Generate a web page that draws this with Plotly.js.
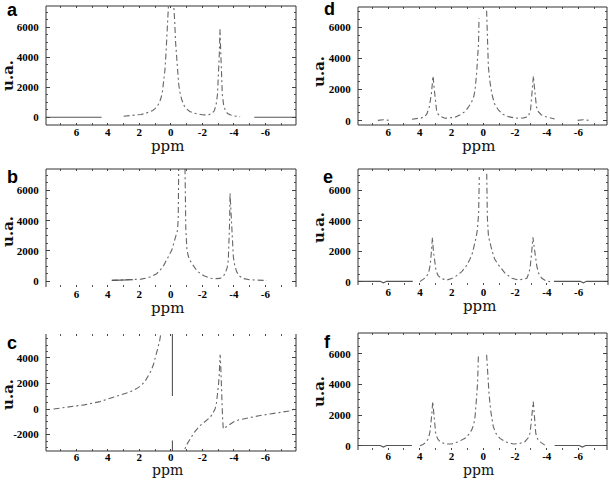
<!DOCTYPE html>
<html>
<head>
<meta charset="utf-8">
<script src="https://cdn.plot.ly/plotly-3.0.1.min.js"></script>
<style>html,body{margin:0;padding:0;background:#fff;}#chart{width:610px;height:480px;}</style>
</head>
<body>
<div id="chart"></div>
<script>
// ---- tick labels ----
const xTickVals = [6, 4, 2, 0, -2, -4, -6];
const xTickText = ['6', '4', '2', '0', '-2', '-4', '-6'];
const yTickVals = [0, 2000, 4000, 6000];
const yTickText = ['0', '2000', '4000', '6000'];
const cTickVals = [-2000, 0, 2000, 4000];
const cTickText = ['-2000', '0', '2000', '4000'];
const panelLetters = ['a', 'b', 'c', 'd', 'e', 'f'];

// ---- panel a ----
const aX = [3.0, 2.6, 2.2, 1.9, 1.6, 1.35, 1.15, 1.0, 0.85, 0.72, 0.62, 0.53, 0.45, 0.38, 0.31, 0.25, 0.2, 0.12, 0.0, -0.12, -0.2, -0.25, -0.3, -0.36, -0.43, -0.5, -0.59, -0.7, -0.85, -1.0, -1.2, -1.45, -1.75, -2.1, -2.4, -2.6, -2.75, -2.87, -2.96, -3.03, -3.08, -3.12, -3.16, -3.21, -3.27, -3.35, -3.45, -3.6, -3.8, -4.1, -4.4];
const aY = [70, 100, 140, 190, 260, 350, 460, 580, 760, 1000, 1300, 1750, 2350, 3100, 4200, 5500, 6600, 8500, 10500, 8500, 7400, 6300, 5000, 3900, 2900, 2200, 1600, 1150, 760, 560, 390, 280, 210, 160, 170, 250, 420, 800, 1500, 2700, 4200, 5850, 4300, 2700, 1500, 850, 500, 250, 150, 80, 40];
const aBaseX = [7.93, 4.4, null, -5.3, -7.95];
const aBaseY = [10, 10, null, 10, 10];

// ---- panel b ----
const bX = [3.75, 3.3, 2.8, 2.3, 1.9, 1.5, 1.2, 0.9, 0.68, 0.45, 0.26, 0.1, -0.06, -0.17, -0.27, -0.36, -0.43, -0.47, -0.5, -0.6, -0.7, -0.8, -0.86, -0.9, -0.95, -1.02, -1.1, -1.2, -1.34, -1.5, -1.65, -1.87, -2.1, -2.5, -2.8, -3.13, -3.3, -3.45, -3.58, -3.65, -3.7, -3.73, -3.76, -3.8, -3.84, -3.88, -3.92, -3.97, -4.05, -4.18, -4.35, -4.6, -5.0, -5.5, -6.1];
const bY = [60, 70, 85, 100, 140, 220, 330, 500, 730, 1050, 1400, 1700, 2060, 2450, 2900, 3150, 3400, 4200, 7600, 11000, 12000, 11000, 9000, 7500, 3500, 2100, 1700, 1400, 1170, 900, 700, 510, 360, 200, 170, 190, 300, 510, 900, 1400, 2400, 3800, 5830, 4800, 4000, 3300, 2500, 1620, 1100, 620, 350, 180, 100, 60, 50];
const bBaseX = [3.75, 2.4];
const bBaseY = [60, 95];

// ---- panel c ----
const cX = [7.45, 7.0, 6.5, 6.0, 5.5, 5.0, 4.5, 4.0, 3.5, 3.0, 2.6, 2.2, 1.9, 1.65, 1.45, 1.25, 1.1, 0.95, 0.82, 0.7, 0.6, 0.5, null, -0.75, -0.8, -1.0, -1.23, -1.5, -1.86, -2.2, -2.5, -2.7, -2.81, -2.9, -2.96, -3.02, -3.07, -3.1, -3.13, -3.17, -3.2, -3.24, -3.28, -3.33, -3.5, -3.75, -4.0, -4.3, -4.6, -5.0, -5.6, -6.3, -7.0, -7.5, -7.85];
const cY = [0, 90, 170, 250, 330, 430, 580, 790, 990, 1170, 1340, 1580, 1830, 2150, 2550, 3000, 3500, 4100, 4800, 5400, 6000, 7000, null, -3800, -3400, -2800, -2330, -1800, -1290, -950, -650, -250, 0, 500, 1030, 1800, 2580, 3400, 4250, 3400, 2000, 800, -500, -1550, -1400, -1150, -1000, -850, -760, -650, -520, -390, -270, -150, 0];
const cBaseX = [-0.1, -0.1, null, -0.1, -0.1];
const cBaseY = [5870, 1030, null, -2460, -3300];

// ---- panel d ----
const dX = [6.65, 6.3, 5.95, null, 4.5, 4.2, 3.9, 3.68, 3.55, 3.4, 3.32, 3.27, 3.22, 3.18, 3.15, 3.12, 3.06, 2.95, 2.85, 2.74, 2.42, 2.1, 1.79, 1.45, 1.16, 0.95, 0.73, 0.6, 0.52, 0.42, 0.36, 0.3, 0.27, null, -0.21, -0.26, -0.32, -0.42, -0.53, -0.7, -0.95, -1.25, -1.58, -1.9, -2.2, -2.55, -2.84, -2.98, -3.05, -3.11, -3.16, -3.21, -3.26, -3.35, -3.47, -3.65, -3.9, -4.2, -4.5, null, -5.95, -6.3, -6.65];
const dY = [20, 60, 20, null, 90, 120, 180, 260, 450, 900, 1300, 1760, 2300, 2870, 2700, 2300, 1540, 690, 420, 300, 150, 170, 214, 380, 580, 850, 1220, 1550, 1970, 3040, 4000, 5000, 6580, null, 7070, 5190, 3470, 2500, 1760, 1100, 690, 400, 260, 190, 150, 180, 260, 700, 1540, 2300, 2870, 2300, 1540, 900, 580, 380, 260, 160, 110, null, 20, 60, 20];
const dBaseX = [];
const dBaseY = [];

// ---- panel e ----
const eX = [4.0, 3.8, 3.6, 3.45, 3.35, 3.28, 3.21, 3.15, 3.08, 2.98, 2.85, 2.65, 2.3, 2.0, 1.7, 1.36, 1.1, 0.87, 0.7, 0.58, 0.46, 0.38, 0.3, 0.26, null, -0.21, -0.25, -0.32, -0.42, -0.53, -0.7, -0.95, -1.37, -1.8, -2.2, -2.5, -2.74, -2.88, -2.95, -3.03, -3.12, -3.17, -3.22, -3.3, -3.37, -3.5, -3.68, -3.9, -4.2];
const eY = [0, 150, 300, 600, 1100, 1900, 2920, 2000, 1300, 700, 400, 200, 110, 200, 380, 660, 1000, 1430, 1850, 2310, 2900, 3400, 4500, 6880, null, 7100, 4200, 2970, 2500, 2090, 1500, 1100, 550, 220, 110, 150, 220, 600, 990, 1800, 2920, 2500, 2090, 1400, 990, 500, 220, 80, 0];
const eBaseX = [7.9, 6.5, 6.3, 6.1, 4.45, null, -4.45, -6.1, -6.3, -6.5, -7.85];
const eBaseY = [20, 20, -80, 20, 20, null, 20, 20, -80, 20, 20];

// ---- panel f ----
const fX = [4.0, 3.8, 3.57, 3.45, 3.36, 3.3, 3.25, 3.19, 3.14, 3.1, 3.05, 3.0, 2.88, 2.73, 2.41, 2.0, 1.6, 1.15, 0.9, 0.73, 0.6, 0.52, 0.42, 0.36, 0.31, null, -0.21, -0.27, -0.36, -0.46, -0.63, -0.8, -1.05, -1.4, -1.89, -2.3, -2.62, -2.82, -2.94, -3.0, -3.06, -3.1, -3.15, -3.21, -3.26, -3.31, -3.42, -3.57, -3.88];
const fY = [0, 80, 260, 500, 920, 1400, 2000, 2880, 2400, 1900, 1300, 800, 450, 260, 110, 110, 250, 480, 750, 1030, 1400, 1900, 3200, 4080, 5830, null, 5935, 4500, 3430, 2330, 1240, 800, 480, 250, 110, 150, 260, 500, 800, 1300, 1900, 2400, 2880, 2120, 1400, 800, 450, 260, 40];
const fBaseX = [7.87, 6.5, 6.3, 6.1, 4.5, null, -4.5, -6.05, -6.25, -6.45, -7.8];
const fBaseY = [15, 15, -90, 15, 15, null, 15, 15, -90, 15, 15];

// ---- layout of panels (pixels) ----
const W = 610, H = 480;
const panels = [
  {n: 1, x: aX, y: aY, bx: aBaseX, by: aBaseY, px: [46, 296], py: [6, 125], xr: [7.93, -7.95], yr: [-510, 7400], tv: yTickVals, tt: yTickText, edges: 'LRTB', lab: [12, 10], ua: 76},
  {n: 2, x: bX, y: bY, bx: bBaseX, by: bBaseY, px: [46, 296], py: [169, 287], xr: [7.93, -7.95], yr: [-380, 7420], tv: yTickVals, tt: yTickText, edges: 'LRT', lab: [12, 177], ua: 232},
  {n: 3, x: cX, y: cY, bx: cBaseX, by: cBaseY, px: [46, 296], py: [334, 451], xr: [7.93, -7.95], yr: [-3280, 5870], tv: cTickVals, tt: cTickText, edges: 'LRB', lab: [12, 343], ua: 395},
  {n: 4, x: dX, y: dY, bx: dBaseX, by: dBaseY, px: [358, 607], py: [7, 125], xr: [7.9, -7.8], yr: [-280, 7310], tv: yTickVals, tt: yTickText, edges: 'LRTB', lab: [329, 9], ua: 72},
  {n: 5, x: eX, y: eY, bx: eBaseX, by: eBaseY, px: [358, 608], py: [169, 285], xr: [7.9, -7.85], yr: [-220, 7410], tv: yTickVals, tt: yTickText, edges: 'LRT', lab: [328, 177], ua: 228},
  {n: 6, x: fX, y: fY, bx: fBaseX, by: fBaseY, px: [358, 607], py: [333, 450], xr: [7.9, -7.8], yr: [-280, 7350], tv: yTickVals, tt: yTickText, edges: 'LRT', lab: [327, 342], ua: 392}
];

const tickFont = {family: 'Liberation Serif, Times New Roman, serif', size: 11, color: '#000', weight: 700};
const traces = [];
const layout = {
  width: W, height: H,
  margin: {l: 0, r: 0, t: 0, b: 0},
  paper_bgcolor: '#fff', plot_bgcolor: '#fff',
  showlegend: false,
  shapes: [], annotations: []
};

panels.forEach((p, i) => {
  const sx = p.n === 1 ? '' : String(p.n);
  const xa = 'xaxis' + sx, ya = 'yaxis' + sx;
  const bottomRow = p.py[1] > 400;
  traces.push({
    x: p.x, y: p.y, xaxis: 'x' + sx, yaxis: 'y' + sx, type: 'scatter', mode: 'lines',
    line: {color: '#666', width: 1.1, dash: '6px,3px,2px,3px'}, hoverinfo: 'skip'
  });
  if (p.bx.length) {
    traces.push({
      x: p.bx, y: p.by, xaxis: 'x' + sx, yaxis: 'y' + sx, type: 'scatter', mode: 'lines',
      line: {color: '#555', width: 1.1}, hoverinfo: 'skip'
    });
  }
  layout[xa] = {
    domain: [p.px[0] / W, p.px[1] / W], range: p.xr, anchor: 'y' + sx,
    showgrid: false, zeroline: false, showline: true, linecolor: 'rgba(0,0,0,0)', mirror: 'allticks',
    ticks: 'inside', ticklen: 2, tickwidth: 1, tickcolor: '#444',
    tickmode: 'array', tickvals: xTickVals, ticktext: xTickText, tickfont: tickFont,
    ticklabelstandoff: bottomRow ? -4 : -3,
    minor: {dtick: 1, tick0: 0, ticks: 'inside', ticklen: 2, tickcolor: '#555'},
    fixedrange: true
  };
  layout[ya] = {
    domain: [1 - p.py[1] / H, 1 - p.py[0] / H], range: p.yr, anchor: 'x' + sx,
    showgrid: false, zeroline: false, showline: true, linecolor: 'rgba(0,0,0,0)', mirror: 'allticks',
    ticks: 'inside', ticklen: 4, tickwidth: 1, tickcolor: '#444',
    tickmode: 'array', tickvals: p.tv, ticktext: p.tt, tickfont: tickFont, ticklabelstandoff: 4,
    minor: {dtick: 500, tick0: 0, ticks: 'inside', ticklen: 2, tickcolor: '#555'},
    fixedrange: true
  };
  const xr = 'x' + sx + ' domain', yr = 'y' + sx + ' domain';
  const ln = {color: '#333', width: 1};
  const edge = (x0, y0, x1, y1) => layout.shapes.push({type: 'line', xref: xr, yref: yr, x0, y0, x1, y1, line: ln, layer: 'above'});
  if (p.edges.includes('L')) edge(0, 0, 0, 1);
  if (p.edges.includes('R')) edge(1, 0, 1, 1);
  if (p.edges.includes('T')) edge(0, 1, 1, 1);
  if (p.edges.includes('B')) edge(0, 0, 1, 0);

  const cx = (p.px[0] + p.px[1]) / 2 - 4;
  layout.annotations.push({
    text: 'ppm', xref: 'paper', yref: 'paper', x: cx / W,
    y: bottomRow ? 0 : 1 - (p.py[1] + 21) / H,
    xanchor: 'center', yanchor: bottomRow ? 'bottom' : 'middle', showarrow: false,
    font: {family: 'DejaVu Serif, serif', size: bottomRow ? 14 : 15, color: '#111'}
  });
  layout.annotations.push({
    text: 'u.a.', xref: 'paper', yref: 'paper', x: (p.px[0] < 200 ? 8 : 319) / W, y: 1 - p.ua / H,
    xanchor: 'center', yanchor: 'middle', showarrow: false, textangle: -90,
    font: {family: 'DejaVu Serif, serif', size: 15, color: '#111', weight: 700}
  });
  layout.annotations.push({
    text: panelLetters[i], xref: 'paper', yref: 'paper', x: p.lab[0] / W, y: 1 - p.lab[1] / H,
    xanchor: 'center', yanchor: 'middle', showarrow: false,
    font: {family: 'Liberation Sans, Arial, sans-serif', size: 18, color: '#000', weight: 700}
  });
});

Plotly.newPlot('chart', traces, layout, {displayModeBar: false, staticPlot: true});
</script>
</body>
</html>
